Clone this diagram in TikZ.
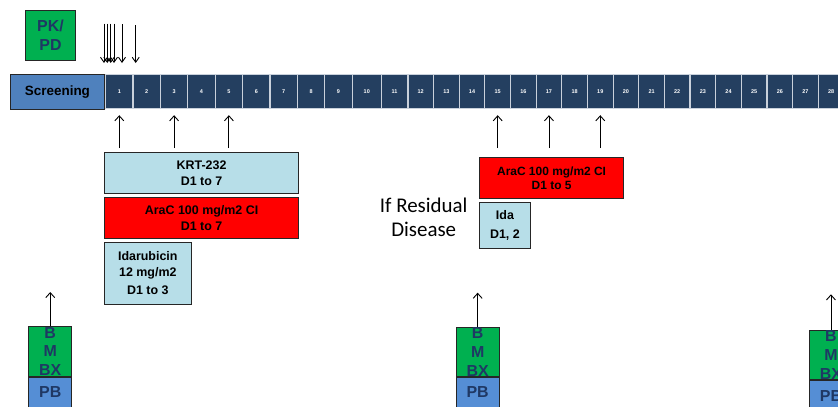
\documentclass[tikz,border=0pt]{standalone}
\usepackage{fontspec}
\setmainfont{Liberation Sans}
\newfontfamily\calibrifont{Carlito}
\usetikzlibrary{arrows.meta,positioning}
\definecolor{daynavy}{HTML}{243F60}
\definecolor{daygap}{HTML}{C9D1DB}
\definecolor{scrblue}{HTML}{4F81BD}
\definecolor{pkgreen}{HTML}{00B050}
\definecolor{drugblue}{HTML}{B7DEE8}
\definecolor{drugred}{HTML}{FF0000}
\definecolor{pbblue}{HTML}{558ED5}
\definecolor{inknavy}{HTML}{1F3864}
\definecolor{edgeink}{HTML}{262626}

\begin{document}
\begin{tikzpicture}[
  x=1bp, y=-1bp,
  >={Straight Barb[length=5bp,width=9bp]},
  daycell/.style={fill=daynavy, draw=daygap, line width=1.2bp, anchor=north west,
              minimum height=34bp, inner sep=0pt, text=white,
              font=\fontsize{5.5}{6}\selectfont\bfseries},
  drug/.style={draw=edgeink, line width=0.9bp, anchor=north west, inner sep=0pt,
              align=center, font=\fontsize{12.5}{15.5}\selectfont\bfseries},
  sample/.style={draw=edgeink, line width=0.9bp, anchor=north west, inner sep=0pt,
              minimum width=43bp, text=inknavy, align=center,
              font=\fontsize{16}{19}\selectfont\bfseries},
  bmtext/.style={text=inknavy, align=center, inner sep=0pt,
              font=\fontsize{16}{19}\selectfont\bfseries},
  uparrow/.style={->, line width=0.9bp},
  dnarrow/.style={->, line width=0.9bp, >={Straight Barb[length=5bp,width=7bp]}}]

%% Lienzo de 838 x 406 con y hacia abajo, como en la imagen de referencia.
\useasboundingbox (0,0) rectangle (838,406);
\clip (0,0) rectangle (838,406);

%% ---- cabecera: PK/PD y flechas de muestreo ----
\node[fill=pkgreen, draw=edgeink, line width=0.9bp, anchor=north west,
      minimum width=50bp, minimum height=50bp, inner sep=0pt, align=center,
      text=inknavy, font=\fontsize{16}{19}\selectfont\bfseries] (pkpd)
  at (25,10) {PK/\\PD};

%% ---- linea de tiempo ----
\node[fill=scrblue, draw=edgeink, line width=0.9bp, anchor=north west,
      minimum width=94bp, minimum height=35bp, inner sep=0pt,
      font=\fontsize{13.5}{16}\selectfont\bfseries] (scr) at (10,74) {Screening};

%% Los anchos de celda no son uniformes en el original: 1-9 mas anchas.
\foreach \i in {1,...,9}
  \node[daycell, minimum width=27.4bp] (d\i) at ({105+27.4*(\i-1)},74) {\i};
\node[daycell, minimum width=29.1bp] (d10) at (351.6,74) {10};
\node[daycell, minimum width=26.6bp] (d11) at (380.7,74) {11};
\foreach \i in {12,...,28}
  \node[daycell, minimum width=25.65bp] (d\i) at ({407.3+25.65*(\i-12)},74) {\i};

\foreach \dx/\top in {-1/50.5, 2.3/50.5, 5.7/50.5, 9/50.5, 17/50, 30.7/49}
  \draw[dnarrow] ([shift={(\dx bp,\top bp)}]d1.north west)
    -- ([shift={(\dx bp,11bp)}]d1.north west);

%% ---- ciclo 1 ----
\node[drug, fill=drugblue, minimum width=194.3bp, minimum height=40.5bp] (krt)
  at (104,152.3) {KRT-232\\D1 to 7};
\node[drug, fill=drugred, minimum width=194.3bp, minimum height=41bp,
      below=3.4bp of krt.south west, anchor=north west] (arac)
  {AraC 100 mg/m2 CI\\D1 to 7};
\node[drug, fill=drugblue, minimum width=86.7bp, minimum height=62bp,
      below=2.6bp of arac.south west, anchor=north west] (ida)
  {Idarubicin\\12 mg/m2\\[3bp]D1 to 3};

\foreach \d in {1,3,5}
  \draw[uparrow, shorten <=4.3bp, shorten >=6bp] (d\d.south |- krt.north) -- (d\d.south);

%% ---- ciclo 2: solo si hay enfermedad residual ----
\node[drug, fill=drugred, minimum width=144.3bp, minimum height=41.6bp,
      font=\fontsize{12}{14.5}\selectfont\bfseries] (arac2)
  at (479,156.7) {AraC 100 mg/m2 CI\\D1 to 5};
\node[drug, fill=drugblue, minimum width=51bp, minimum height=46.3bp,
      below=2.7bp of arac2.south west, anchor=north west] (ida2)
  {Ida\\[3bp]D1, 2};
\node[align=center, inner sep=0pt, font=\calibrifont\fontsize{21}{24}\selectfont]
  (resid) at (423.7,217) {If Residual\\Disease};

\foreach \d in {15,17,19}
  \draw[uparrow, shorten <=8.7bp, shorten >=6bp] (d\d.south |- arac2.north) -- (d\d.south);

%% ---- biopsias de medula y sangre periferica ----
\node[sample, fill=pkgreen, minimum height=50bp,
      label={[bmtext]center:B\\M\\BX}] (bm1) at (28.3,326) {};
\node[sample, fill=pbblue, minimum height=30bp, below=0pt of bm1] (pb1) {PB};
\draw[uparrow] (bm1.north) -- ++(0,-34);

\node[sample, fill=pkgreen, minimum height=48.7bp,
      label={[bmtext]center:B\\M\\BX}] (bm2) at (455.7,327.3) {};
\node[sample, fill=pbblue, minimum height=30bp, below=0pt of bm2] (pb2) {PB};
\draw[uparrow] (bm2.north) -- ++(0,-34.6);

\node[sample, fill=pkgreen, minimum height=49.3bp,
      label={[bmtext]center:B\\M\\BX}] (bm3) at (809,330) {};
\node[sample, fill=pbblue, minimum height=30bp, below=0pt of bm3] (pb3) {PB};
\draw[uparrow] (bm3.north) -- ++(0,-35.7);

\end{tikzpicture}
\end{document}
